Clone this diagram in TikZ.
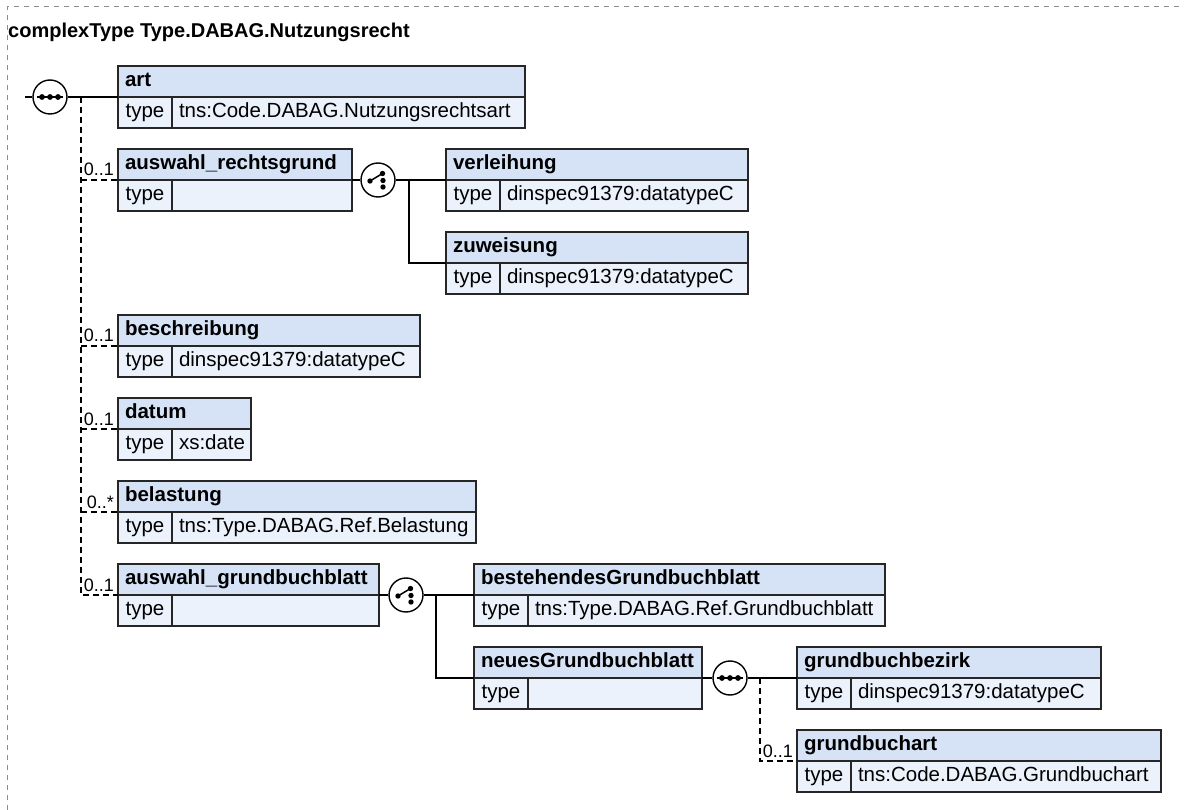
\documentclass[tikz,border=0pt]{standalone}
\usepackage{fontspec}
\setmainfont{Liberation Sans}
\definecolor{hdrfill}{HTML}{D6E3F7}
\definecolor{rowfill}{HTML}{EBF2FC}
\definecolor{framegray}{HTML}{8C8C8C}
\tikzset{
 box/.style={draw=black!85, line width=1.4pt, inner sep=0pt, outer sep=0pt, minimum height=31pt, text height=14.8pt, text depth=4.2pt},
 hdr/.style={box, fill=hdrfill, font=\fontsize{20.5}{24}\selectfont\bfseries, inner xsep=7pt, align=left},
 tcell/.style={box, fill=rowfill, minimum width=54pt, font=\fontsize{20.5}{24}\selectfont},
 vcell/.style={box, fill=rowfill, inner xsep=7pt, align=left, font=\fontsize{20.5}{24}\selectfont},
 conn/.style={line width=1.4pt, black},
 optconn/.style={line width=1.4pt, black, dash pattern=on 6pt off 4pt},
 occ/.style={font=\fontsize{18}{20}\selectfont, inner sep=0pt, anchor=base east},
 comp/.style={circle, draw=black, fill=white, line width=1.4pt, minimum size=34pt, inner sep=0pt},
 framedash/.style={draw=framegray, line width=1pt, dash pattern=on 5pt off 5pt},
}
\newcommand\elembox[6]{%
 \pgfmathsetmacro\elw{#4-14}%
 \pgfmathsetmacro\elv{#4-54-14}%
 \node[hdr, text width=\elw pt, anchor=north west] (#1) at (#2,#3) {#5};
 \node[tcell, anchor=north west] (#1-t) at (#1.south west) {type};
 \node[vcell, text width=\elv pt, anchor=north west] (#1-v) at (#1-t.north east) {#6};
}
\newcommand\seqicon[1]{%
 \begin{scope}[shift={(#1)}]
  \draw[line width=1.4pt] (-13,0) -- (13,0);
  \fill (-8,0) circle (2.9pt); \fill (0,0) circle (2.9pt); \fill (8,0) circle (2.9pt);
 \end{scope}}
\newcommand\choiceicon[1]{%
 \begin{scope}[shift={(#1)}]
  \draw[line width=1.5pt] (-8,1) -- (4.5,-6.5);
  \fill (-8,1) circle (2.7pt); \fill (4.5,-6.5) circle (2.7pt);
  \fill (5,0.5) circle (2.7pt); \fill (5,7) circle (2.7pt);
 \end{scope}}
\begin{document}
\begin{tikzpicture}[x=1pt,y=-1pt]
\useasboundingbox (0,0) rectangle (1184,810);
\draw[framedash] (7,810) -- (7,7) -- (1184,7);
\node[anchor=base west, inner sep=0pt, font=\fontsize{20}{24}\selectfont\bfseries] (title) at (8,38) {complexType Type.DABAG.Nutzungsrecht};

\elembox{art}{118}{66}{407}{art}{tns:Code.DABAG.Nutzungsrechtsart}
\elembox{ausA}{118}{149}{234}{auswahl\_rechtsgrund}{}
\elembox{verl}{446}{149}{302}{verleihung}{dinspec91379:datatypeC}
\elembox{zuw}{446}{232}{302}{zuweisung}{dinspec91379:datatypeC}
\elembox{beschr}{118}{315}{302}{beschreibung}{dinspec91379:datatypeC}
\elembox{datum}{118}{398}{133}{datum}{xs:date}
\elembox{belast}{118}{481}{358}{belastung}{tns:Type.DABAG.Ref.Belastung}
\elembox{ausB}{118}{564}{261}{auswahl\_grundbuchblatt}{}
\elembox{best}{474}{564}{411}{bestehendesGrundbuchblatt}{tns:Type.DABAG.Ref.Grundbuchblatt}
\elembox{neu}{474}{647}{228}{neuesGrundbuchblatt}{}
\elembox{bezirk}{797}{647}{304}{grundbuchbezirk}{dinspec91379:datatypeC}
\elembox{gart}{797}{730}{364}{grundbuchart}{tns:Code.DABAG.Grundbuchart}

% top-level sequence
\coordinate (inA) at (25,97);
\node[comp] (seqA) at (50,97) {};
\seqicon{seqA}
\draw[conn] (inA) -- (seqA.west);
\draw[conn] (seqA.east) -- (art.south west);
\coordinate (spine) at (81,97);
\draw[optconn] (spine) |- (ausB.south west);
\draw[optconn] (spine |- ausA.south west) -- (ausA.south west);
\draw[optconn] (spine |- beschr.south west) -- (beschr.south west);
\draw[optconn] (spine |- datum.south west) -- (datum.south west);
\draw[optconn] (spine |- belast.south west) -- (belast.south west);
\node[occ] (oA) at ([xshift=-4pt,yshift=4pt]ausA.south west) {0..1};
\node[occ] (oB) at ([xshift=-4pt,yshift=4pt]beschr.south west) {0..1};
\node[occ] (oC) at ([xshift=-4pt,yshift=4pt]datum.south west) {0..1};
\node[occ] (oD) at ([xshift=-4pt,yshift=4pt]belast.south west) {0..*};
\node[occ] (oE) at ([xshift=-4pt,yshift=4pt]ausB.south west) {0..1};

% choice 1
\node[comp] (chA) at (378,180) {};
\choiceicon{chA}
\draw[conn] (ausA-v.north east) -- (chA.west);
\draw[conn] (chA.east) -- (verl.south west);
\coordinate (brA) at (409,180);
\draw[conn] (brA) |- (zuw.south west);

% choice 2
\node[comp] (chB) at (406,595) {};
\choiceicon{chB}
\draw[conn] (ausB-v.north east) -- (chB.west);
\draw[conn] (chB.east) -- (best.south west);
\coordinate (brB) at (436,595);
\draw[conn] (brB) |- (neu.south west);

% inner sequence
\node[comp] (seqB) at (730,678) {};
\seqicon{seqB}
\draw[conn] (neu-v.north east) -- (seqB.west);
\draw[conn] (seqB.east) -- (bezirk.south west);
\coordinate (spB) at (760,678);
\draw[optconn] (spB) |- (gart.south west);
\node[occ] (oF) at ([xshift=-4pt,yshift=4pt]gart.south west) {0..1};
\end{tikzpicture}
\end{document}
